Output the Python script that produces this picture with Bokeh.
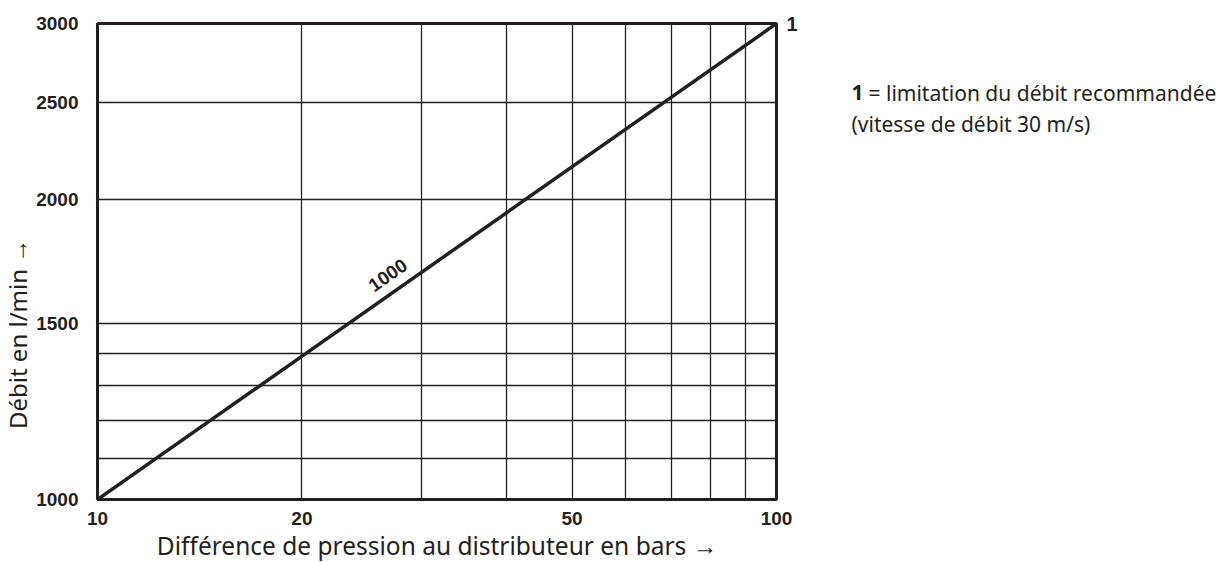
import math
from bokeh.plotting import figure
from bokeh.layouts import row
from bokeh.models import FixedTicker, Label, NumeralTickFormatter, LogAxis, Range1d
from bokeh.core.properties import value
from bokeh.embed import file_html
from bokeh.resources import INLINE

# ---- data -------------------------------------------------------------
x_ticks = [10, 20, 50, 100]
y_ticks = [1000, 1500, 2000, 2500, 3000]
x_grid = [20, 30, 40, 50, 60, 70, 80, 90]
y_grid = [1100, 1200, 1300, 1400, 1500, 2000, 2500]
line_x = [10, 100]
line_y = [1000, 3000]
line_label = "1000"
end_label = "1"
legend_key = "1"
legend_line1 = "= limitation du débit recommandée"
legend_line2 = "(vitesse de débit 30 m/s)"
x_title = "Différence de pression au distributeur en bars →"
y_title = "Débit en l/min →"

INK = "#231f20"
BOLD_FONT = "Liberation Sans"
TEXT_FONT = "Noto Sans"

FRAME_W, FRAME_H = 679, 476
W0 = 33                      # width of the y-title strip
LEFT, TOP, RIGHT, BOTTOM = 64, 23, 40, 61
H = TOP + FRAME_H + BOTTOM


def blank(width):
    # side strips: their frames are aligned with the main frame by the row layout,
    # so the y range maps page pixels TOP..TOP+FRAME_H
    f = figure(width=width, height=H, x_range=Range1d(0, width),
               y_range=Range1d(TOP + FRAME_H, TOP),
               x_axis_location=None, y_axis_location=None, title=None,
               min_border=0, output_backend="svg", toolbar_location=None)
    f.outline_line_color = None
    f.grid.visible = False
    f.background_fill_color = "white"
    f.border_fill_color = "white"
    return f


# ---- y title strip ------------------------------------------------------
q0 = blank(W0)
q0.text(x=[16.5], y=[336], text=[y_title], angle=math.pi / 2,
        text_font=value(TEXT_FONT), text_font_size="24px", text_color=INK,
        text_align="center", text_baseline="middle")

# ---- main chart ---------------------------------------------------------
p = figure(
    x_axis_type="log", y_axis_type="log",
    x_range=(line_x[0], line_x[-1]), y_range=(line_y[0], line_y[-1]),
    frame_width=FRAME_W, frame_height=FRAME_H, title=None,
    min_border_left=LEFT, min_border_top=TOP, min_border_right=RIGHT, min_border_bottom=BOTTOM,
    output_backend="svg", toolbar_location=None,
)
p.background_fill_color = "white"
p.border_fill_color = "white"
p.outline_line_color = INK
p.outline_line_width = 3

p.xgrid.ticker = FixedTicker(ticks=x_grid)
p.ygrid.ticker = FixedTicker(ticks=y_grid)
for g in (p.xgrid, p.ygrid):
    g.grid_line_color = INK
    g.grid_line_width = 1.3
    g.grid_line_alpha = 1.0

end_axis = LogAxis(ticker=FixedTicker(ticks=[line_y[-1]]),
                   major_label_overrides={line_y[-1]: end_label})
p.add_layout(end_axis, "right")

p.xaxis.ticker = FixedTicker(ticks=x_ticks)
p.yaxis[0].ticker = FixedTicker(ticks=y_ticks)
for ax in p.xaxis + p.yaxis:
    ax.formatter = NumeralTickFormatter(format="0")
    ax.axis_line_color = None
    ax.major_tick_line_color = None
    ax.minor_tick_line_color = None
    ax.major_tick_out = 0
    ax.major_tick_in = 0
    ax.minor_tick_out = 0
    ax.major_label_text_font = BOLD_FONT
    ax.major_label_text_font_style = "bold"
    ax.major_label_text_font_size = "19px"
    ax.major_label_text_color = INK
end_axis.major_label_overrides = {line_y[-1]: end_label}
end_axis.major_label_standoff = 10
end_axis.major_label_text_font_size = "20px"
p.yaxis[0].major_label_standoff = 19
p.xaxis.major_label_standoff = 12
p.xaxis.axis_label = x_title
p.xaxis.axis_label_text_font = TEXT_FONT
p.xaxis.axis_label_text_font_style = "normal"
p.xaxis.axis_label_text_font_size = "24.5px"
p.xaxis.axis_label_text_color = INK
p.xaxis.axis_label_standoff = 1

p.line(line_x, line_y, line_width=3.5, color=INK)

ang = math.atan2(FRAME_H, FRAME_W)
t = 0.442
lx = 10 ** (math.log10(line_x[0]) + t * (math.log10(line_x[-1]) - math.log10(line_x[0])))
ly = 10 ** (math.log10(line_y[0]) + t * (math.log10(line_y[-1]) - math.log10(line_y[0])))
d = 17
p.add_layout(Label(x=lx, y=ly, text=line_label, angle=ang,
                   x_offset=-d * math.sin(ang), y_offset=d * math.cos(ang),
                   text_align="center", text_baseline="middle",
                   text_font=BOLD_FONT, text_font_style="bold",
                   text_font_size="19px", text_color=INK))

# ---- legend strip -------------------------------------------------------
P_W = LEFT + FRAME_W + RIGHT
L_X = W0 + P_W
L_W = 1216 - L_X
q = blank(L_W)
x0 = 851 - L_X
q.text(x=[x0], y=[93], text=[legend_key], text_font=value(TEXT_FONT), text_font_style="bold",
       text_font_size="21px", text_color=INK, text_align="left", text_baseline="alphabetic")
q.text(x=[x0 + 17], y=[93], text=[legend_line1], text_font=value(TEXT_FONT),
       text_font_size="21px", text_color=INK, text_align="left", text_baseline="alphabetic")
q.text(x=[x0], y=[124], text=[legend_line2], text_font=value(TEXT_FONT),
       text_font_size="21px", text_color=INK, text_align="left", text_baseline="alphabetic")

layout = row(q0, p, q, spacing=0)
open("out.html", "w").write(file_html(layout, INLINE))
